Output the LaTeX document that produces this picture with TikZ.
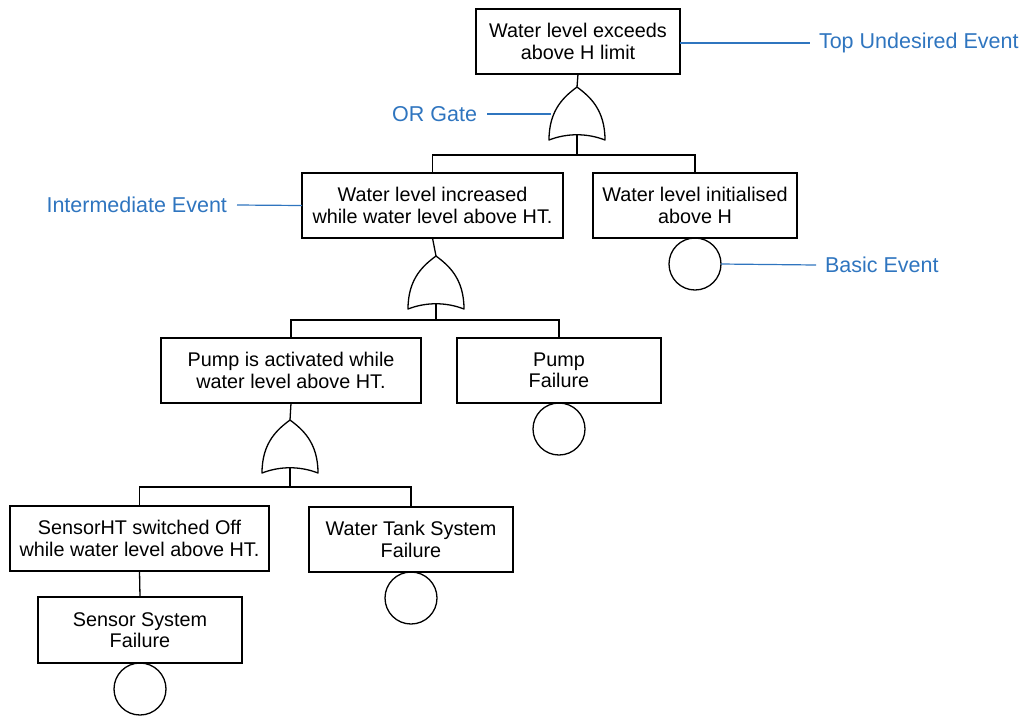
\documentclass[tikz,border=0pt]{standalone}
\usepackage{fontspec}
\setmainfont{Liberation Sans}
\definecolor{lblblue}{RGB}{47,117,191}
\begin{document}
\begin{tikzpicture}[x=1pt,y=-1pt,
  every node/.style={inner sep=0pt, outer sep=0pt},
  event/.style={draw, line width=1.3pt, minimum height=65pt, align=center,
    font=\fontsize{19.8}{21.5}\selectfont},
  basic/.style={draw, circle, line width=1.3pt, minimum size=52pt},
  conn/.style={line width=1.3pt},
  lbl/.style={text=lblblue, font=\fontsize{21.5}{24}\selectfont},
  lblline/.style={draw=lblblue, line width=1.2pt},
  pics/orgate/.style={code={
    \draw[conn, line join=round] (0,0) .. controls (-12,9) and (-28,22) .. (-28,53)
      .. controls (-10,46) and (10,46) .. (28,53)
      .. controls (28,22) and (12,9) .. cycle;
    \coordinate (-top) at (0,0);
    \coordinate (-bot) at (0,48);
    \coordinate (-left) at (-26,27);
  }}]
\useasboundingbox (0,0) rectangle (1025,716);

% events
\node[event, minimum width=204pt] (A) at (578,41.5) {Water level exceeds\\above H limit};
\node[event, minimum width=261pt] (B) at (432.5,205.5) {Water level increased\\while water level above HT.};
\node[event, minimum width=204pt] (C) at (695,205.5) {Water level initialised\\above H};
\node[event, minimum width=260pt] (D) at (291,370.5) {Pump is activated while\\water level above HT.};
\node[event, minimum width=204pt] (E) at (559,370.5) {Pump\\Failure};
\node[event, minimum width=259pt] (F) at (139.5,538.5) {SensorHT switched Off\\while water level above HT.};
\node[event, minimum width=204pt] (G) at (411,539.5) {Water Tank System\\Failure};
\node[event, minimum width=204pt, minimum height=66pt] (H) at (140,630) {Sensor System\\Failure};

% basic event circles
\node[basic, anchor=north] (cC) at (C.south) {};
\node[basic, anchor=north] (cE) at (E.south) {};
\node[basic, anchor=north] (cG) at (G.south) {};
\node[basic, anchor=north] (cH) at (H.south) {};

% gates
\pic (g1) at (577,87) {orgate};
\pic (g2) at (436,256) {orgate};
\pic (g3) at (290,420) {orgate};

% connectors
\draw[conn] (A.south) -- (g1-top);
\draw[conn] (g1-bot) -- (577,155);
\draw[conn] (B.north) -- (B.north |- 0,155) -- (C.north |- 0,155) -- (C.north);

\draw[conn] (B.south) -- (g2-top);
\draw[conn] (g2-bot) -- (436,320);
\draw[conn] (D.north) -- (D.north |- 0,320) -- (E.north |- 0,320) -- (E.north);

\draw[conn] (D.south) -- (g3-top);
\draw[conn] (g3-bot) -- (290,487);
\draw[conn] (F.north) -- (F.north |- 0,487) -- (G.north |- 0,487) -- (G.north);

\draw[conn] (F.south) -- (H.north);

% blue labels
\coordinate (tuEnd) at (810,43);
\node[lbl, anchor=west] (tu) at (819,43) {Top Undesired Event};
\draw[lblline] (A.east |- tuEnd) -- (tuEnd);

\coordinate (orEnd) at (487,114);
\node[lbl, anchor=east] (org) at (477,114) {OR Gate};
\draw[lblline] (orEnd) -- (g1-left);

\coordinate (ieEnd) at (237,205);
\node[lbl, anchor=east] (ie) at (227,205) {Intermediate Event};
\draw[lblline] (ieEnd) -- (B.west);

\coordinate (beEnd) at (816,265);
\node[lbl, anchor=west] (be) at (825,265) {Basic Event};
\draw[lblline] (cC.east) -- (beEnd);
\end{tikzpicture}
\end{document}
